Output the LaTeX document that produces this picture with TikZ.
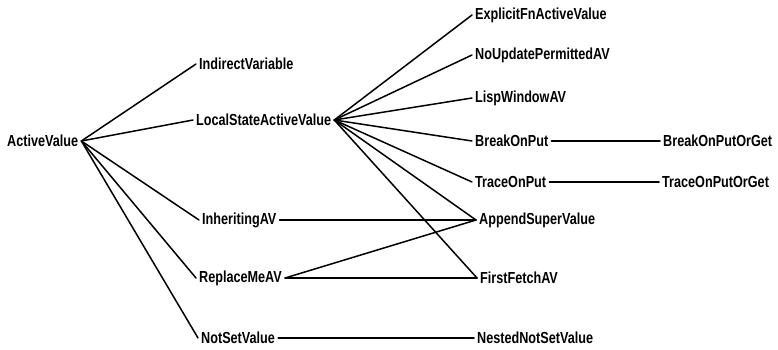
\documentclass[tikz,border=0pt]{standalone}
\usepackage{fontspec}
\setmainfont{Liberation Sans}[FakeStretch=0.79]
\begin{document}
\begin{tikzpicture}[x=1pt,y=-1pt,
  cls/.style={font=\bfseries\fontsize{16}{18}\selectfont, inner sep=3pt, anchor=west},
  link/.style={line width=1.5pt, line cap=round}]
\useasboundingbox (0,0) rectangle (778,350);
% class nodes, placed by their left edge
\node[cls] (av)   at (4,141)   {ActiveValue};
\node[cls] (iv)   at (196,64)  {IndirectVariable};
\node[cls] (lsav) at (193,120) {LocalStateActiveValue};
\node[cls] (inh)  at (199,220) {InheritingAV};
\node[cls] (rep)  at (196,278) {ReplaceMeAV};
\node[cls] (nsv)  at (198,338) {NotSetValue};
\node[cls] (efn)  at (472,15)  {ExplicitFnActiveValue};
\node[cls] (nup)  at (472,55)  {NoUpdatePermittedAV};
\node[cls] (lw)   at (472,98)  {LispWindowAV};
\node[cls] (bop)  at (472,141) {BreakOnPut};
\node[cls] (top)  at (472,182) {TraceOnPut};
\node[cls] (asv)  at (476,220) {AppendSuperValue};
\node[cls] (ff)   at (477,278) {FirstFetchAV};
\node[cls] (nnsv) at (474,338) {NestedNotSetValue};
\node[cls] (bopg) at (660,141) {BreakOnPutOrGet};
\node[cls] (topg) at (659,182) {TraceOnPutOrGet};
% subclass links
\foreach \c in {iv,lsav,inh,rep,nsv}
  \draw[link] (av.east) -- (\c.west);
\foreach \c in {efn,nup,lw,bop,top,asv,ff}
  \draw[link] (lsav.east) -- (\c.west);
\draw[link] (bop.east) -- (bopg.west);
\draw[link] (top.east) -- (topg.west);
\draw[link] (inh.east) -- (asv.west);
\draw[link] (rep.east) -- (asv.west);
\draw[link] (rep.east) -- (ff.west);
\draw[link] (nsv.east) -- (nnsv.west);
\end{tikzpicture}
\end{document}
